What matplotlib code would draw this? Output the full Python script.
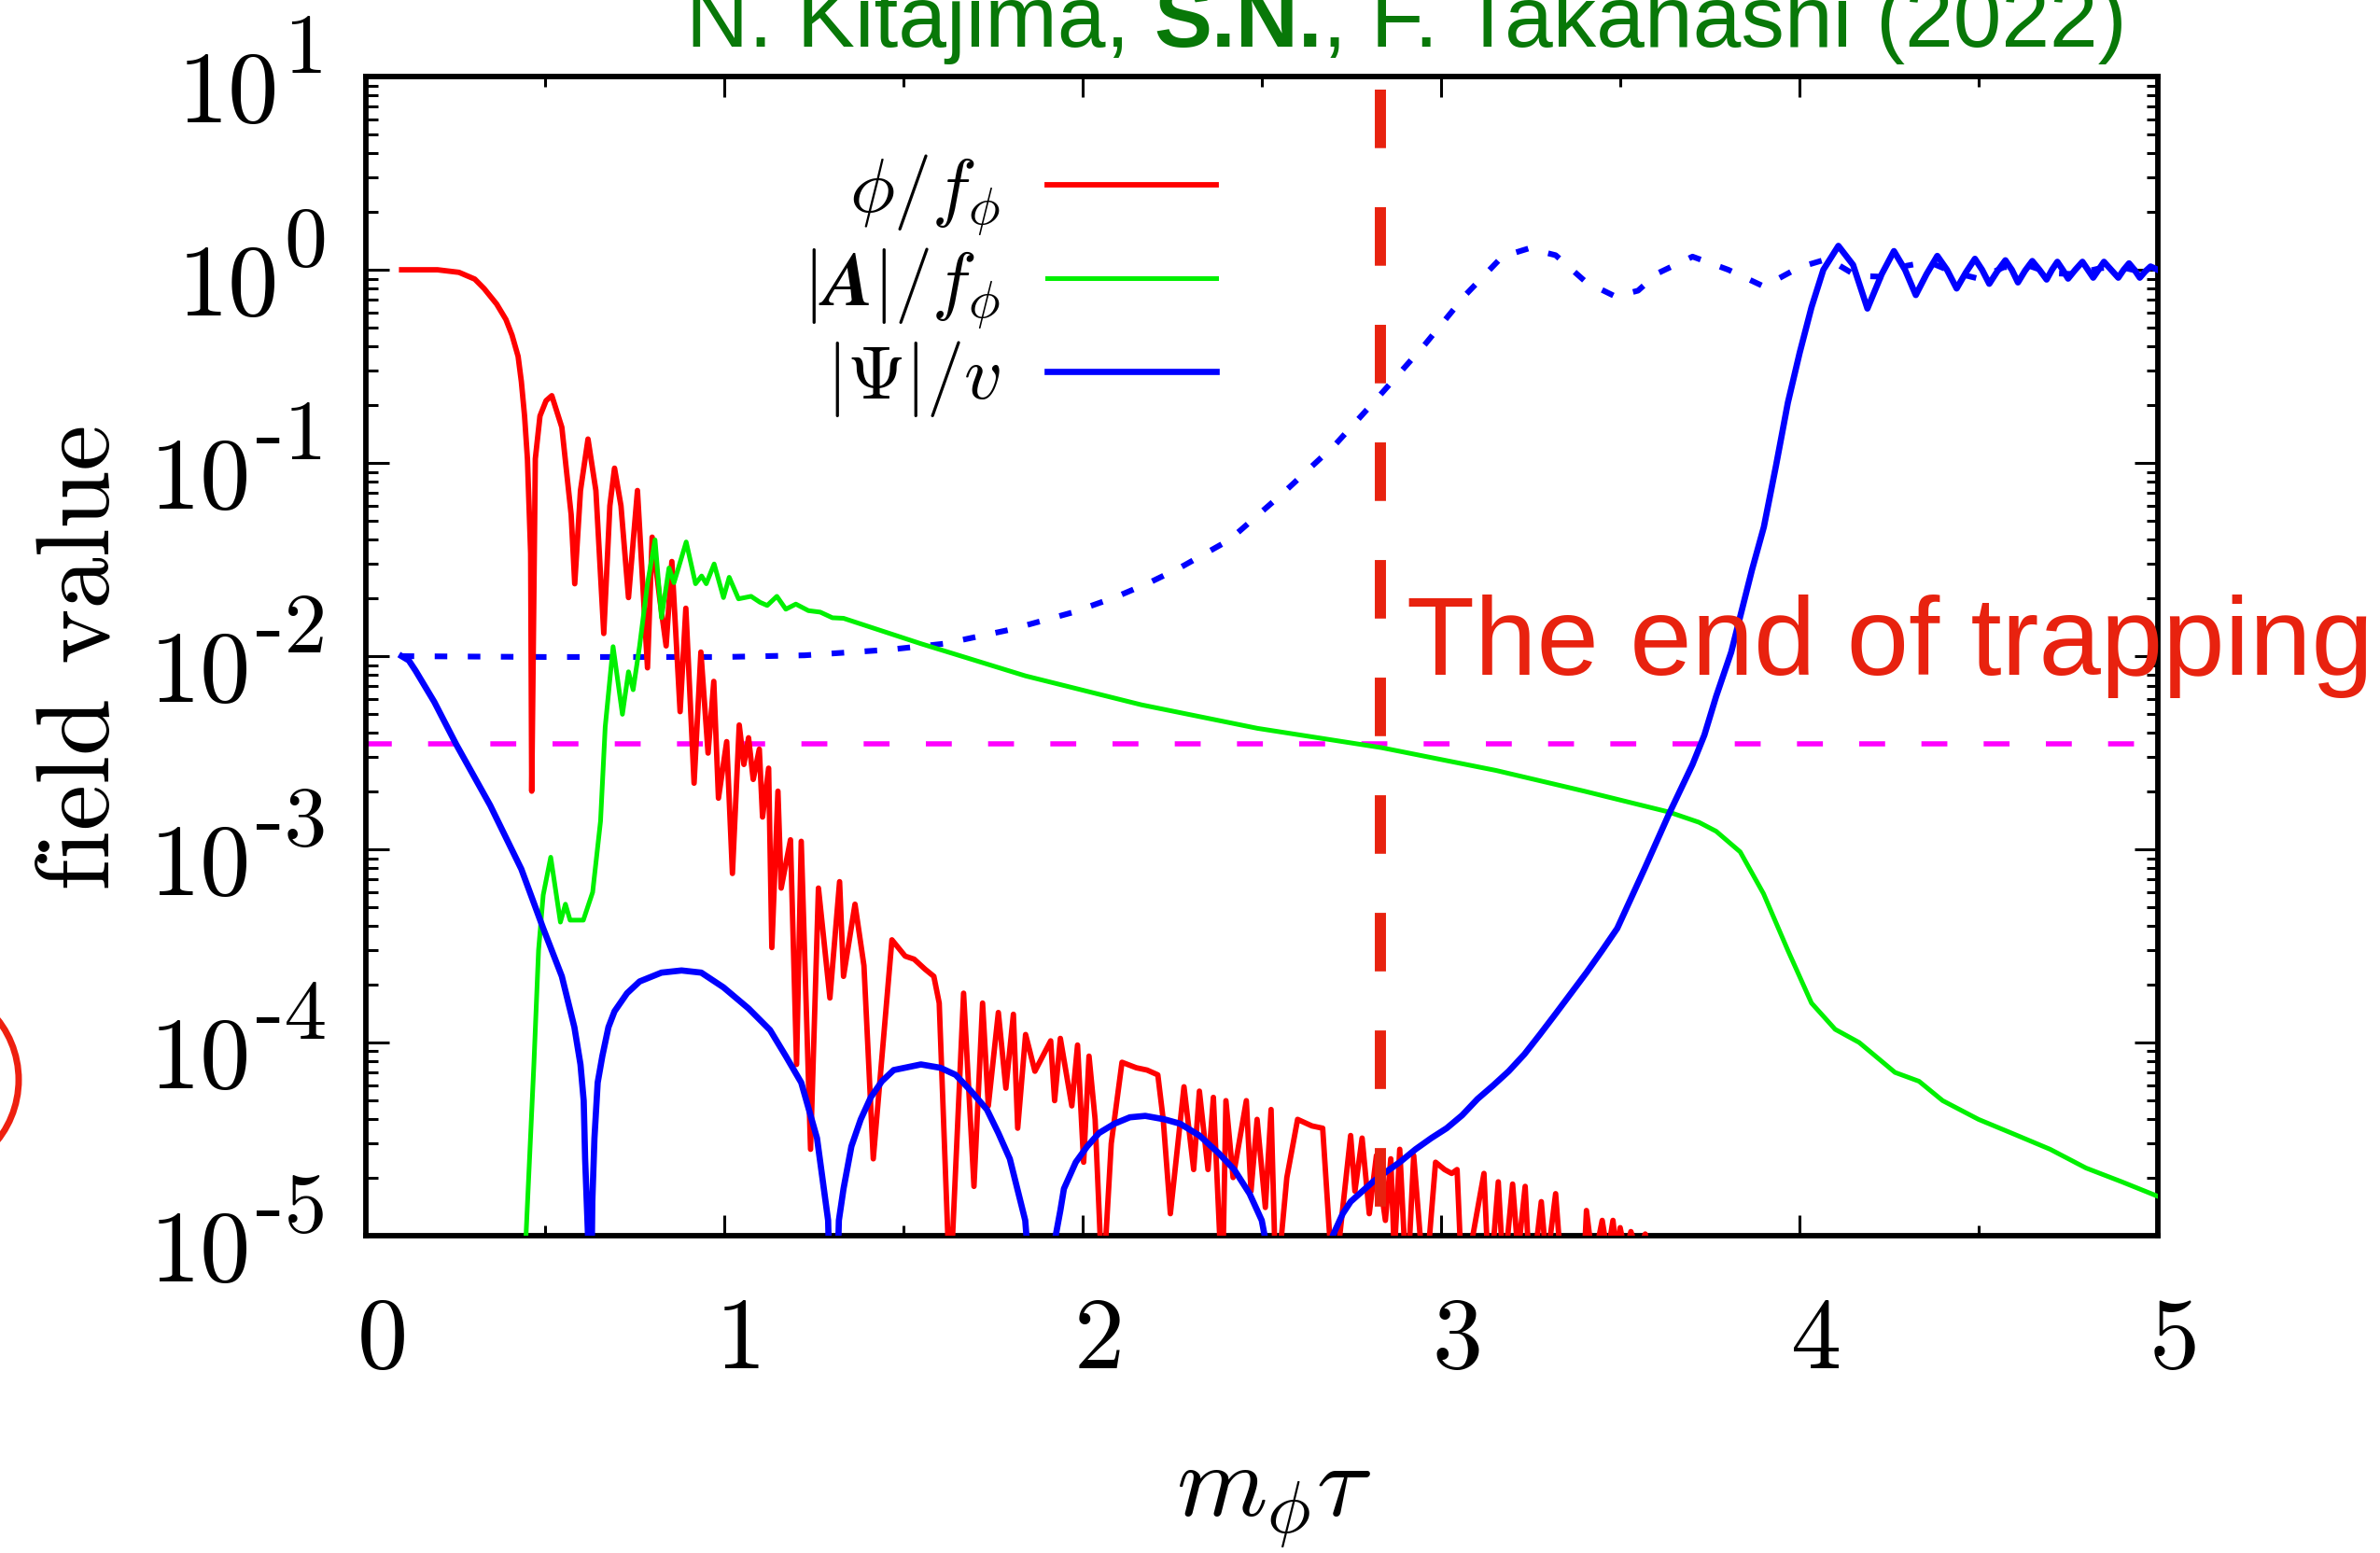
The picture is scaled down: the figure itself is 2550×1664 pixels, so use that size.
import matplotlib
matplotlib.use("Agg")
import matplotlib.pyplot as plt
import matplotlib.patches as mpatches
from matplotlib.text import Annotation
from matplotlib.transforms import ScaledTranslation
from matplotlib.ticker import MultipleLocator, LogLocator, NullFormatter

plt.rcParams['font.family'] = ['cmr10']
plt.rcParams['mathtext.fontset'] = 'cm'
plt.rcParams['axes.formatter.use_mathtext'] = True

# phi / f_phi (red)
phi_x = [0.10, 0.20, 0.26, 0.304, 0.33, 0.365, 0.391, 0.408, 0.425, 0.434, 0.443, 0.451, 0.46, 0.463,
         0.473, 0.486, 0.503, 0.519,
         0.547, 0.573, 0.583, 0.599, 0.62, 0.642, 0.664, 0.681, 0.694, 0.712, 0.733, 0.758, 0.786, 0.799,
         0.82, 0.838, 0.854, 0.877, 0.893, 0.916, 0.935, 0.955, 0.971, 0.984, 1.007, 1.023, 1.042, 1.055,
         1.068, 1.081, 1.098, 1.107, 1.124, 1.133, 1.15, 1.159, 1.185, 1.202, 1.215, 1.241, 1.263, 1.295,
         1.322, 1.333, 1.365, 1.39, 1.416, 1.468, 1.505, 1.53, 1.56, 1.585, 1.60, 1.63, 1.668, 1.697,
         1.721, 1.737, 1.765, 1.786, 1.807, 1.819, 1.841, 1.867, 1.911, 1.922, 1.938, 1.97, 1.986, 2.003,
         2.018, 2.035, 2.056, 2.08, 2.11, 2.15, 2.18, 2.21, 2.225, 2.245, 2.283, 2.31, 2.326, 2.35, 2.365,
         2.39, 2.40, 2.42, 2.457, 2.47, 2.487, 2.51, 2.526, 2.54, 2.57, 2.60, 2.64, 2.67, 2.70, 2.748, 2.76,
         2.78, 2.80, 2.82, 2.845, 2.86, 2.87, 2.885, 2.905, 2.924, 2.955, 2.985, 3.01, 3.03, 3.045, 3.06,
         3.12, 3.135, 3.16, 3.175, 3.20, 3.215, 3.235, 3.25, 3.28, 3.295, 3.32, 3.35, 3.39, 3.406, 3.425,
         3.45, 3.465, 3.48, 3.49, 3.50, 3.515, 3.53, 3.55, 3.57, 3.60]
phi_y = [1.0, 1.0, 0.97, 0.895, 0.80, 0.665, 0.553, 0.459, 0.356, 0.264, 0.175, 0.105, 0.034, 0.002,
         0.105, 0.175, 0.21, 0.223,
         0.153, 0.054, 0.0237, 0.072, 0.133, 0.072, 0.0131, 0.060, 0.094, 0.060, 0.0201, 0.072, 0.0087, 0.0413,
         0.020, 0.0113, 0.0309, 0.00516, 0.0177, 0.0022, 0.0105, 0.00315, 0.0074, 0.00184, 0.00361, 7.5e-4, 0.0044, 0.00275,
         0.00378, 0.0023, 0.0033, 0.00147, 0.00263, 3.1e-4, 0.0020, 6.3e-4, 1.12e-3, 7.7e-5, 1.1e-3, 2.8e-5, 6.3e-4, 1.7e-4,
         6.8e-4, 2.2e-4, 5.2e-4, 2.5e-4, 2.5e-5, 3.4e-4, 2.8e-4, 2.7e-4, 2.4e-4, 2.2e-4, 1.6e-4, 5e-6, 1.8e-4, 1.8e-5,
         1.6e-4, 4.7e-5, 1.43e-4, 5.8e-5, 1.4e-4, 3.6e-5, 1.1e-4, 7.1e-5, 1.02e-4, 5e-5, 1.05e-4, 4.7e-5, 9.7e-5, 2.4e-5,
         8.5e-5, 4e-5, 5e-6, 3e-5, 7.9e-5, 7.4e-5, 7.2e-5, 6.8e-5, 4e-5, 1.3e-5, 5.9e-5, 2.2e-5, 5.6e-5, 2.2e-5, 5.2e-5,
         5e-6, 5e-5, 2e-5, 5e-5, 1.7e-5, 4e-5, 1.4e-5, 4.5e-5, 5e-6, 2e-5, 4e-5, 3.7e-5, 3.6e-5, 5e-6, 3.3e-5, 1.7e-5,
         3.2e-5, 1.3e-5, 2.6e-5, 1.2e-5, 2.5e-5, 8e-6, 2.8e-5, 5e-6, 2.6e-5, 5e-6, 2.4e-5, 2.2e-5, 2.1e-5, 2.2e-5, 5e-6,
         2.1e-5, 5e-6, 1.9e-5, 6e-6, 1.85e-5, 8e-6, 1.8e-5, 5e-6, 1.5e-5, 7e-6, 1.65e-5, 3e-6, 3e-6, 1.35e-5, 7e-6,
         1.2e-5, 8e-6, 1.2e-5, 8e-6, 1.1e-5, 8e-6, 1.05e-5, 8e-6, 1.02e-5, 5e-6]

# |A| / f_phi (green)
A_x = [0.44, 0.447, 0.469, 0.482, 0.495, 0.516, 0.543, 0.557, 0.57, 0.607, 0.633, 0.655, 0.668, 0.69,
       0.716, 0.733, 0.746, 0.764, 0.786, 0.807, 0.825, 0.846, 0.86, 0.894, 0.92, 0.937, 0.95, 0.972,
       0.998, 1.014, 1.04, 1.075, 1.10, 1.12, 1.147, 1.172, 1.20, 1.235, 1.268, 1.302, 1.333, 1.549,
       1.841, 2.164, 2.488, 2.834, 3.154, 3.40, 3.636, 3.72, 3.768, 3.835, 3.90, 3.968, 4.034, 4.10,
       4.167, 4.267, 4.334, 4.40, 4.50, 4.60, 4.70, 4.80, 4.90, 5.0]
A_y = [1e-6, 1e-5, 7.7e-5, 3e-4, 5.8e-4, 9.1e-4, 4.2e-4, 5.2e-4, 4.3e-4, 4.3e-4, 6e-4, 1.4e-3, 4.3e-3, 0.0112,
       0.005, 8.3e-3, 6.7e-3, 0.0113, 0.0237, 0.040, 0.0158, 0.0286, 0.024, 0.039, 0.0237, 0.026, 0.0237, 0.030,
       0.0201, 0.0256, 0.0198, 0.0204, 0.019, 0.0183, 0.0204, 0.0175, 0.0186, 0.0172, 0.0169, 0.0158, 0.0157, 0.0116,
       0.0079, 0.0056, 0.00423, 0.00336, 0.00256, 0.0020, 0.00156, 0.00138, 0.00124, 9.7e-4, 5.9e-4, 3e-4, 1.6e-4, 1.17e-4,
       1.0e-4, 7e-5, 6.3e-5, 5e-5, 4e-5, 3.35e-5, 2.8e-5, 2.24e-5, 1.9e-5, 1.6e-5]

# |Psi| / v (blue, solid)
psi_x = [0.10, 0.12, 0.139, 0.191, 0.252, 0.347, 0.434, 0.495, 0.547, 0.582, 0.599, 0.608, 0.612, 0.62, 0.625,
         0.632, 0.638, 0.647, 0.66, 0.677, 0.694, 0.729, 0.764, 0.825, 0.881, 0.936, 0.998, 1.068, 1.128,
         1.172, 1.215, 1.259, 1.29, 1.305, 1.32, 1.333, 1.355, 1.381, 1.409, 1.44, 1.473, 1.549, 1.603,
         1.646, 1.689, 1.733, 1.765, 1.797, 1.84, 1.885, 1.925, 1.938, 1.948, 1.981, 2.013, 2.046, 2.089,
         2.132, 2.175, 2.229, 2.272, 2.326, 2.38, 2.423, 2.466, 2.50, 2.61, 2.698, 2.726, 2.748, 2.81,
         2.841, 2.885, 2.929, 2.973, 3.016, 3.059, 3.102, 3.146, 3.189, 3.233, 3.276, 3.319, 3.363, 3.406,
         3.45, 3.492, 3.569, 3.636, 3.702, 3.735, 3.768, 3.81, 3.868, 3.901, 3.935, 3.968, 4.001, 4.034,
         4.067, 4.109, 4.15, 4.19, 4.23, 4.264, 4.295, 4.325, 4.355, 4.385, 4.412, 4.439, 4.465, 4.49,
         4.51, 4.53, 4.552, 4.575, 4.593, 4.61, 4.63, 4.65, 4.67, 4.69, 4.705, 4.72, 4.735, 4.75, 4.77,
         4.79, 4.805, 4.82, 4.835, 4.85, 4.87, 4.89, 4.905, 4.92, 4.935, 4.95, 4.965, 4.98, 5.0]
psi_y = [0.01, 0.0095, 0.0084, 0.0058, 0.0035, 0.00169, 7.9e-4, 3.9e-4, 2.2e-4, 1.2e-4, 7.7e-5, 5e-5, 2.5e-5, 1.0e-5, 1e-6,
         1.5e-5, 3.2e-5, 6.2e-5, 8.5e-5, 1.2e-4, 1.45e-4, 1.8e-4, 2.07e-4, 2.3e-4, 2.36e-4, 2.3e-4, 1.93e-4, 1.5e-4, 1.16e-4,
         8.5e-5, 6.2e-5, 3.2e-5, 1.2e-5, 1e-6, 1.2e-5, 1.75e-5, 2.9e-5, 4e-5, 5.2e-5, 6.3e-5, 7.2e-5, 7.7e-5, 7.4e-5,
         6.8e-5, 5.6e-5, 4.5e-5, 3.4e-5, 2.5e-5, 1.2e-5, 1e-6, 1e-5, 1.35e-5, 1.75e-5, 2.4e-5, 2.9e-5, 3.4e-5, 3.8e-5,
         4.1e-5, 4.17e-5, 4e-5, 3.8e-5, 3.3e-5, 2.67e-5, 2.2e-5, 1.65e-5, 1.2e-5, 1e-6, 1e-5, 1.3e-5, 1.5e-5, 1.9e-5,
         2.1e-5, 2.4e-5, 2.8e-5, 3.2e-5, 3.6e-5, 4.2e-5, 5.1e-5, 6e-5, 7.1e-5, 8.7e-5, 1.1e-4, 1.4e-4, 1.8e-4, 2.3e-4,
         3e-4, 3.9e-4, 8e-4, 1.52e-3, 2.75e-3, 3.9e-3, 6.2e-3, 0.0105, 0.028, 0.0466, 0.097, 0.205, 0.372, 0.64,
         1.0, 1.33, 1.06, 0.63, 0.95, 1.25, 1.0, 0.74, 0.95, 1.18, 1.0, 0.80, 0.97, 1.14,
         1.0, 0.846, 0.98, 1.12, 1.0, 0.86, 0.99, 1.11, 1.0, 0.89, 1.0, 1.1, 1.0, 0.90, 1.0,
         1.1, 1.0, 0.91, 1.0, 1.1, 1.0, 0.91, 1.0, 1.08, 1.0, 0.91, 0.98, 1.04, 1.0]

# |Psi| / v (blue, dotted)
psi2_x = [0.10, 0.5, 1.0, 1.224, 1.46, 1.614, 1.797, 1.97, 2.089, 2.186, 2.272, 2.41, 2.56, 2.706,
          2.822, 2.955, 3.07, 3.171, 3.245, 3.32, 3.404, 3.487, 3.55, 3.603, 3.702, 3.802, 3.901, 4.0,
          4.08, 4.16, 4.24, 4.30, 4.36, 4.43, 4.50, 4.57, 4.64, 4.70, 4.77, 4.84, 4.90, 4.96, 5.0]
psi2_y = [0.01, 0.0099, 0.0099, 0.0101, 0.0108, 0.0116, 0.0137, 0.0168, 0.0201, 0.024, 0.0287, 0.040, 0.070, 0.125,
          0.216, 0.41, 0.746, 1.17, 1.29, 1.19, 0.866, 0.727, 0.78, 0.956, 1.17, 1.0, 0.82, 1.03,
          1.14, 0.93, 0.92, 1.05, 1.10, 0.97, 0.90, 1.03, 1.05, 0.96, 0.95, 1.02, 1.03, 0.97, 0.98]

thresh = 3.5e-3      # magenta dashed level
trap_x = 2.83        # end of trapping
xticks = [0, 1, 2, 3, 4, 5]
ydecades = [1e-5, 1e-4, 1e-3, 1e-2, 1e-1, 1e0, 1e1]
yexps = ['-5', '-4', '-3', '-2', '-1', '0', '1']
labels = [r'$\phi/f_\phi$', r'$|\mathbfit{A}|/f_\phi$', r'$|\Psi|/v$']

fig = plt.figure(figsize=(25.5, 16.65), dpi=100)
ax = fig.add_axes([0.1537, 0.2042, 0.7529, 0.7459])

px = 72 / 100.0  # points per pixel

ax.axhline(thresh, color='#ff00ff', lw=4.0, dashes=(5.0, 7.0), zorder=1)
l1, = ax.plot(phi_x, phi_y, color='#ff0000', lw=4.2, zorder=3)
l2, = ax.plot(A_x, A_y, color='#00f000', lw=3.6, zorder=3)
ax.plot(psi2_x, psi2_y, color='#0000ff', lw=4.4, dashes=(2.2, 3.6), zorder=2)
l3, = ax.plot(psi_x, psi_y, color='#0000ff', lw=4.8, zorder=4)

ax.plot([trap_x, trap_x], [0.9887, 0.0113], transform=ax.get_xaxis_transform(),
        color='#e8220f', lw=8.6, dashes=(5.25, 5.3), solid_capstyle='butt', zorder=10, clip_on=False)

ax.set_yscale('log')
ax.set_xlim(0, 5)
ax.set_ylim(1e-5, 1e1)

ax.xaxis.set_major_locator(MultipleLocator(1))
ax.xaxis.set_minor_locator(MultipleLocator(0.5))
ax.yaxis.set_major_locator(LogLocator(base=10, numticks=20))
ax.yaxis.set_minor_locator(LogLocator(base=10, subs=range(2, 10), numticks=20))
ax.yaxis.set_major_formatter(NullFormatter())
ax.yaxis.set_minor_formatter(NullFormatter())
ax.set_xticks(xticks)
ax.set_xticklabels([str(t) for t in xticks])

ax.tick_params(which='both', direction='in', top=True, right=True, width=2.2)
ax.tick_params(axis='x', which='major', length=16, labelsize=78, pad=47)
ax.tick_params(axis='x', which='minor', length=8)
ax.tick_params(axis='y', which='major', length=18)
ax.tick_params(axis='y', which='minor', length=9)
for s in ax.spines.values():
    s.set_linewidth(4.2)

# the x labels sit a little right of their ticks in the original
shift = ScaledTranslation(18 / 100, 0, fig.dpi_scale_trans)
for lab in ax.get_xticklabels():
    lab.set_transform(lab.get_transform() + shift)

# y tick labels: "10" with a large exponent, right aligned
ytr = ax.get_yaxis_transform()
for v, e in zip(ydecades, yexps):
    te = ax.annotate(e, xy=(0, v), xycoords=ytr, xytext=(-42 * px, 5 * px), textcoords='offset points',
                     ha='right', va='baseline', fontsize=66, annotation_clip=False)
    ax.annotate('10', xy=(0, v), xycoords=(te, ytr), xytext=(-5 * px, -48 * px), textcoords='offset points',
                ha='right', va='baseline', fontsize=78, annotation_clip=False)

ax.set_ylabel('field value', fontsize=80)
ax.yaxis.set_label_coords(-0.132, 0.5)
ax.set_xlabel(r'$m_\phi\tau$', fontsize=80, va='center')
ax.xaxis.set_label_coords(0.507, -0.231)

ax.legend([l1, l2, l3], labels, loc='upper right', bbox_to_anchor=(0.511, 0.902),
          bbox_transform=fig.transFigure, frameon=False, markerfirst=False, fontsize=58,
          handlelength=2.25, handletextpad=0.62, labelspacing=0.1, borderpad=0, borderaxespad=0)

# overlaid annotations
green = '#087808'
t1 = fig.text(0.2882, 1 - 50 / 1665, 'N. Kitajima, ', color=green, fontsize=67,
              family='Liberation Sans', va='baseline', ha='left')
t2 = fig.add_artist(Annotation('S.N.', xy=(1, 0), xycoords=t1, va='bottom', ha='left', color=green,
                               fontsize=67, family='Liberation Sans', weight='bold'))
fig.add_artist(Annotation(', F. Takahashi (2022)', xy=(1, 0), xycoords=t2, va='bottom', ha='left',
                          color=green, fontsize=67, family='Liberation Sans'))

fig.text(0.591, 1 - 723 / 1665, 'The end of trapping', color='#e8220f', fontsize=86,
         family='Liberation Sans', va='baseline', ha='left', zorder=20)

fig.add_artist(mpatches.Ellipse((-84 / 2550, 507 / 1665), 208 / 2550, 208 / 1665,
                                transform=fig.transFigure, fill=False, edgecolor='#ee2010', lw=5))

fig.savefig('out.png', dpi=100)
